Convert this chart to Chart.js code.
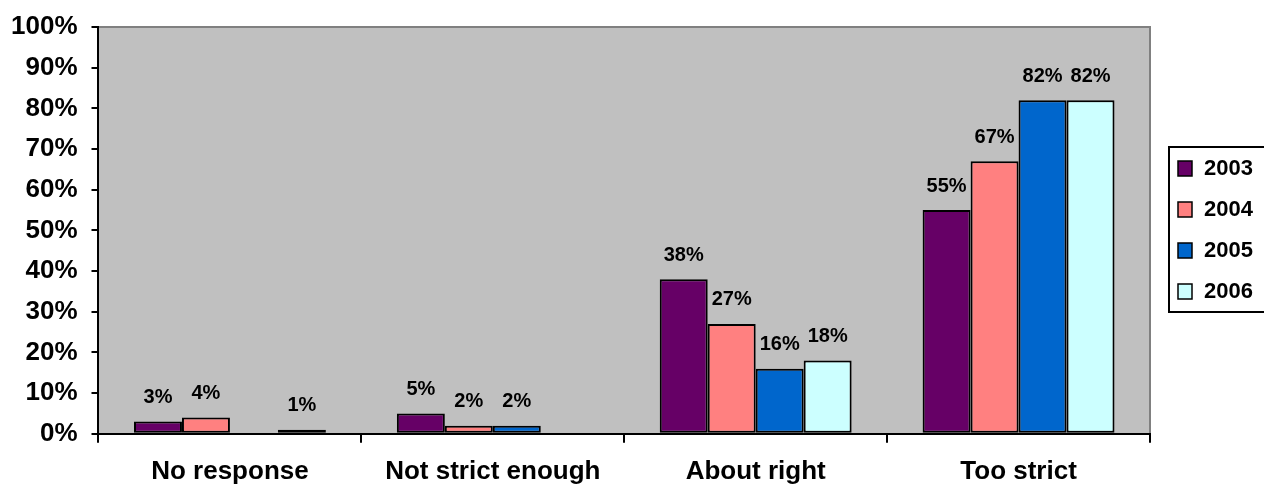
<!DOCTYPE html>
<html>
<head>
<meta charset="utf-8">
<script src="https://cdn.jsdelivr.net/npm/chart.js@4/dist/chart.umd.min.js"></script>
<style>
html,body{margin:0;padding:0;background:#fff;}
#wrap{width:1264px;height:485px;position:relative;}
</style>
</head>
<body>
<div id="wrap"><canvas id="c" width="1264" height="485"></canvas></div>
<script>
const categories = ["No response", "Not strict enough", "About right", "Too strict"];
const seriesNames = ["2003", "2004", "2005", "2006"];
const values2003 = [3, 5, 38, 55];
const values2004 = [4, 2, 27, 67];
const values2005 = [null, 2, 16, 82];
const values2006 = [1, null, 18, 82];
const seriesColors = ["#660066", "#FF8080", "#0066CC", "#CCFFFF"];
const yTicks = [0, 10, 20, 30, 40, 50, 60, 70, 80, 90, 100];

const FONT = "'Liberation Sans', Arial, sans-serif";
const allValues = [values2003, values2004, values2005, values2006];

const datasets = seriesNames.map((n, i) => ({
  label: n,
  data: allValues[i],
  backgroundColor: seriesColors[i],
  borderColor: "#000",
  borderWidth: 2,
  borderSkipped: false,
  barPercentage: 1.0,
  categoryPercentage: 0.73
}));

const bgPlugin = {
  id: "bg",
  beforeDraw(chart) {
    const {ctx, chartArea: a} = chart;
    ctx.save();
    ctx.fillStyle = "#C0C0C0";
    ctx.fillRect(a.left, a.top, a.right - a.left, a.bottom - a.top);
    ctx.strokeStyle = "#808080";
    ctx.lineWidth = 2;
    ctx.beginPath();
    ctx.moveTo(a.left, a.top);
    ctx.lineTo(a.right, a.top);
    ctx.lineTo(a.right, a.bottom);
    ctx.stroke();
    ctx.restore();
  }
};

const labelPlugin = {
  id: "vals",
  afterDatasetsDraw(chart) {
    const ctx = chart.ctx;
    ctx.save();
    ctx.font = "bold 20px " + FONT;
    ctx.fillStyle = "#000";
    ctx.textAlign = "center";
    ctx.textBaseline = "middle";
    chart.data.datasets.forEach((ds, di) => {
      const meta = chart.getDatasetMeta(di);
      meta.data.forEach((el, i) => {
        const v = ds.data[i];
        if (v === null || v === undefined) return;
        ctx.fillText(v + "%", el.x, el.y - 24);
      });
    });
    ctx.restore();
  }
};

const legendPlugin = {
  id: "customLegend",
  afterDraw(chart) {
    const ctx = chart.ctx;
    ctx.save();
    const x0 = 1169, y0 = 147, w = 100, h = 165;
    ctx.fillStyle = "#fff";
    ctx.fillRect(x0, y0, w, h);
    ctx.strokeStyle = "#000";
    ctx.lineWidth = 2;
    ctx.strokeRect(x0, y0, w, h);
    ctx.font = "bold 22px " + FONT;
    ctx.textBaseline = "middle";
    ctx.textAlign = "left";
    chart.data.datasets.forEach((ds, i) => {
      const cy = 168 + i * 41;
      ctx.fillStyle = ds.backgroundColor;
      ctx.fillRect(1178, cy - 7, 14, 15);
      ctx.strokeStyle = "#000";
      ctx.lineWidth = 1.5;
      ctx.strokeRect(1178, cy - 7, 14, 15);
      ctx.fillStyle = "#000";
      ctx.fillText(ds.label, 1204, cy + 1);
    });
    ctx.restore();
  }
};

new Chart(document.getElementById("c"), {
  type: "bar",
  data: { labels: categories, datasets },
  options: {
    responsive: false,
    animation: false,
    devicePixelRatio: 1,
    layout: { padding: { top: 10, right: 114, left: -3, bottom: -15 } },
    plugins: { legend: { display: false }, tooltip: { enabled: false } },
    scales: {
      x: {
        grid: { display: true, drawOnChartArea: false, drawTicks: true, tickLength: 9, color: "#000", lineWidth: 2, offset: true },
        border: { display: true, color: "#000", width: 2 },
        ticks: { color: "#000", font: { family: FONT, size: 26, weight: "bold" }, padding: 13, maxRotation: 0 }
      },
      y: {
        min: 0, max: 100,
        afterBuildTicks(axis) { axis.ticks = yTicks.map(v => ({ value: v })); },
        grid: { display: true, drawOnChartArea: false, drawTicks: true, tickLength: 7, color: "#000", lineWidth: 2 },
        border: { display: true, color: "#000", width: 2 },
        ticks: { color: "#000", font: { family: FONT, size: 26, weight: "bold", lineHeight: 1 }, padding: 14, callback: v => v + "%" }
      }
    }
  },
  plugins: [bgPlugin, labelPlugin, legendPlugin]
});
</script>
</body>
</html>
